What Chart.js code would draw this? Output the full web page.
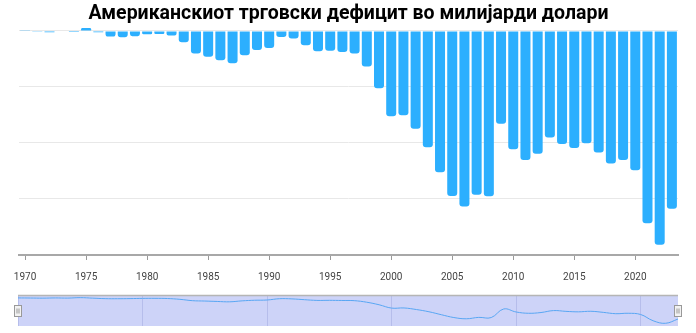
<!DOCTYPE html>
<html>
<head>
<meta charset="utf-8">
<script src="https://cdn.jsdelivr.net/npm/chart.js@4.4.1/dist/chart.umd.min.js"></script>
<style>
  html, body { margin: 0; padding: 0; background: #fff; }
  #main { position: absolute; left: 0; top: 0; width: 696px; height: 290px; }
  #nav { position: absolute; left: 0; top: 290px; width: 696px; height: 43px; }
</style>
</head>
<body>
<div id="main"><canvas id="deficitChart"></canvas></div>
<div id="nav"><canvas id="navChart"></canvas></div>
<script>
// Трговски биланс на САД, милијарди долари (негативно = дефицит)
const titleText = 'Американскиот трговски дефицит во милијарди долари';

const years = [
  1970, 1971, 1972, 1973, 1974, 1975, 1976, 1977, 1978, 1979,
  1980, 1981, 1982, 1983, 1984, 1985, 1986, 1987, 1988, 1989,
  1990, 1991, 1992, 1993, 1994, 1995, 1996, 1997, 1998, 1999,
  2000, 2001, 2002, 2003, 2004, 2005, 2006, 2007, 2008, 2009,
  2010, 2011, 2012, 2013, 2014, 2015, 2016, 2017, 2018, 2019,
  2020, 2021, 2022, 2023
];

const deficit = [
  3, -1, -6, 2, -4, 13, -6, -25, -28, -23,
  -15, -13, -20, -50, -101, -115, -131, -144, -108, -85,
  -76, -27, -34, -64, -91, -88, -94, -101, -159, -256,
  -381, -376, -436, -519, -631, -737, -784, -731, -738, -414,
  -528, -576, -548, -475, -504, -522, -501, -542, -592, -576,
  -622, -858, -954, -793
];

const gridValues = [0, -250, -500, -750, -1000];
const navTicks = [1970, 1980, 1990, 2000, 2010, 2020];

const barColor = '#2caffe';

// главен графикон со столбови
new Chart(document.getElementById('deficitChart'), {
  type: 'bar',
  data: {
    labels: years.map(String),
    datasets: [{
      data: deficit,
      backgroundColor: barColor,
      borderRadius: 3,
      borderSkipped: 'start',
      barPercentage: 0.82,
      categoryPercentage: 1
    }]
  },
  options: {
    responsive: true,
    maintainAspectRatio: false,
    animation: false,
    layout: { padding: { left: 19, right: 18, top: 0, bottom: 0 } },
    plugins: {
      legend: { display: false },
      tooltip: { enabled: false },
      title: {
        display: true,
        text: titleText,
        color: '#000',
        font: { family: 'Roboto', size: 19.5, weight: 'bold' },
        padding: { top: 2, bottom: 2 }
      }
    },
    scales: {
      x: {
        grid: {
          drawOnChartArea: false,
          offset: false,
          tickLength: 5,
          tickWidth: 1,
          tickColor: ctx => (years[ctx.index] % 5 === 0 ? '#999' : 'rgba(0,0,0,0)')
        },
        border: { color: '#a8a8a8', width: 2 },
        ticks: {
          autoSkip: false,
          maxRotation: 0,
          padding: 11,
          color: '#444',
          font: { family: 'Roboto', size: 10 },
          callback: (v, i) => (years[i] % 5 === 0 ? String(years[i]) : '')
        },
        afterFit: s => { s.height = 35; }
      },
      y: {
        min: -1000,
        max: 16,
        ticks: { display: false },
        grid: { color: '#e8e8e8', drawTicks: false },
        border: { display: false },
        afterBuildTicks: s => { s.ticks = gridValues.map(v => ({ value: v })); }
      }
    }
  }
});

// позадина, рамка и рачки на навигаторот
const navFrame = {
  id: 'navFrame',
  beforeDraw(chart) {
    const { ctx, chartArea: a } = chart;
    ctx.save();
    ctx.fillStyle = 'rgba(102,122,235,0.33)';
    ctx.fillRect(a.left, a.top, a.width, a.height);
    ctx.restore();
  },
  afterDraw(chart) {
    const { ctx, chartArea: a } = chart;
    ctx.save();
    ctx.strokeStyle = '#b5b5b5';
    ctx.lineWidth = 1.5;
    ctx.beginPath();
    ctx.moveTo(a.left, a.top - 0.5);
    ctx.lineTo(a.right, a.top - 0.5);
    ctx.stroke();
    [a.left, a.right].forEach(x => {
      const hx = Math.round(x) - 3.5, hy = a.top + 9.5;
      ctx.fillStyle = '#f2f2f2';
      ctx.strokeStyle = '#999';
      ctx.lineWidth = 1;
      ctx.fillRect(hx, hy, 7, 11);
      ctx.strokeRect(hx, hy, 7, 11);
      ctx.beginPath();
      ctx.moveTo(hx + 2.5, hy + 3); ctx.lineTo(hx + 2.5, hy + 8);
      ctx.moveTo(hx + 4.5, hy + 3); ctx.lineTo(hx + 4.5, hy + 8);
      ctx.stroke();
    });
    ctx.restore();
  }
};

new Chart(document.getElementById('navChart'), {
  type: 'line',
  data: {
    datasets: [{
      data: years.map((y, i) => ({ x: y, y: deficit[i] })),
      borderColor: '#58a6f3',
      borderWidth: 1,
      pointRadius: 0,
      tension: 0.4,
      fill: false
    }]
  },
  options: {
    responsive: true,
    maintainAspectRatio: false,
    animation: false,
    layout: { padding: { left: 18, right: 18, top: 6, bottom: 7 } },
    plugins: { legend: { display: false }, tooltip: { enabled: false } },
    scales: {
      x: {
        type: 'linear',
        min: 1970,
        max: 2023,
        afterBuildTicks: s => { s.ticks = navTicks.map(v => ({ value: v })); },
        grid: { color: 'rgba(80,90,170,0.18)', drawTicks: false },
        border: { display: false },
        ticks: {
          padding: -11,
          align: 'start',
          labelOffset: 3,
          color: '#666',
          font: { size: 9 },
          callback: v => String(v)
        },
        afterFit: s => { s.height = 0; }
      },
      y: { display: false, min: -1056, max: 75 }
    }
  },
  plugins: [navFrame]
});
</script>
</body>
</html>
